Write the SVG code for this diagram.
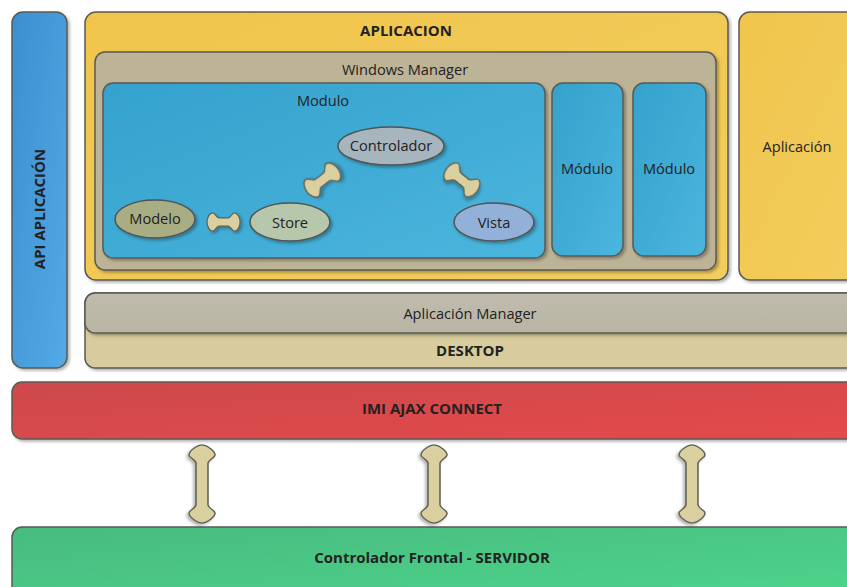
<svg xmlns="http://www.w3.org/2000/svg" xmlns:xlink="http://www.w3.org/1999/xlink" width="847" height="587" viewBox="0 0 847 587">
<style>
text{font-family:"Open Sans","Noto Sans","DejaVu Sans",sans-serif;fill:#222;text-anchor:middle;dominant-baseline:central;font-size:14.6px}
.b{font-weight:bold;font-size:15px}
.box{stroke:#5a5a55;stroke-width:1.5}
.ell{stroke:#4f5552;stroke-width:1.5}
.bone{fill:#d9cf9f;stroke:#5f5f52;stroke-width:1.3}
</style>
<defs>
<filter id="sh" x="-10%" y="-10%" width="130%" height="130%">
<feDropShadow dx="2" dy="2" stdDeviation="1.5" flood-color="#000" flood-opacity="0.3"/>
</filter>
<linearGradient id="gBlue" x1="0" y1="0" x2="1" y2="1"><stop offset="0" stop-color="#3b8fcf"/><stop offset="1" stop-color="#54a9e6"/></linearGradient>
<linearGradient id="gYel" x1="0" y1="0" x2="1" y2="1"><stop offset="0" stop-color="#f1c54c"/><stop offset="1" stop-color="#f2cd5e"/></linearGradient>
<linearGradient id="gMod" x1="0" y1="0" x2="1" y2="1"><stop offset="0" stop-color="#34a2cd"/><stop offset="1" stop-color="#4bb5dd"/></linearGradient>
<linearGradient id="gRed" x1="0" y1="0" x2="1" y2="1"><stop offset="0" stop-color="#cc4a4b"/><stop offset="1" stop-color="#e64a4c"/></linearGradient>
<linearGradient id="gGreen" x1="0" y1="0" x2="1" y2="1"><stop offset="0" stop-color="#49bb7f"/><stop offset="1" stop-color="#4ed68c"/></linearGradient>
<linearGradient id="gGray" x1="0" y1="0" x2="0" y2="1"><stop offset="0" stop-color="#c0bcad"/><stop offset="1" stop-color="#b9b5a5"/></linearGradient>
<path id="boneL" d="M0,0 C0,-5 6,-13 10,-13 C13,-13 14,-7 18,-6 L60,-6 C64,-7 65,-13 68,-13 C72,-13 78,-5 78,0 C78,5 72,13 68,13 C65,13 64,7 60,6 L18,6 C14,7 13,13 10,13 C6,13 0,5 0,0 Z"/>
<path id="boneS" d="M0,0 C0,-5 3,-10 6,-10 C9,-10 10,-5 13,-4.5 L23,-4.5 C26,-5 27,-10 30,-10 C33,-10 36,-5 36,0 C36,5 33,10 30,10 C27,10 26,5 23,4.5 L13,4.5 C10,5 9,10 6,10 C3,10 0,5 0,0 Z"/>
</defs>

<g id="api-aplicacion">
<rect class="box" x="12" y="12" width="55" height="356" rx="11" fill="url(#gBlue)" filter="url(#sh)"/>
<text class="b" transform="translate(39,209) rotate(-90)">API APLICACIÓN</text>
</g>

<g id="aplicacion">
<rect class="box" x="85" y="12" width="643" height="268" rx="11" fill="url(#gYel)" filter="url(#sh)"/>
<text class="b" x="406" y="30">APLICACION</text>
</g>

<g id="windows-manager">
<rect class="box" x="95" y="52" width="621" height="218" rx="10" fill="#bdb396" filter="url(#sh)"/>
<text x="405" y="69">Windows Manager</text>
</g>

<g id="modulo-main">
<rect class="box" x="103" y="83" width="442" height="175" rx="10" fill="url(#gMod)" filter="url(#sh)"/>
<text x="323" y="100">Modulo</text>
</g>

<g id="modulo-2">
<rect class="box" x="552" y="83" width="71" height="173" rx="11" fill="url(#gMod)" filter="url(#sh)"/>
<text x="587" y="168">Módulo</text>
</g>

<g id="modulo-3">
<rect class="box" x="633" y="83" width="73" height="173" rx="11" fill="url(#gMod)" filter="url(#sh)"/>
<text x="669" y="168">Módulo</text>
</g>

<g id="aplicacion-2">
<rect class="box" x="739" y="12" width="140" height="268" rx="11" fill="url(#gYel)" filter="url(#sh)"/>
<text x="797" y="146">Aplicación</text>
</g>

<g id="desktop">
<rect class="box" x="85" y="293" width="800" height="75" rx="10" fill="#d8cc9e" filter="url(#sh)"/>
<text class="b" x="470" y="350">DESKTOP</text>
</g>

<g id="aplicacion-manager">
<rect class="box" x="85" y="293" width="800" height="40" rx="10" fill="url(#gGray)" filter="url(#sh)"/>
<text x="470" y="313">Aplicación Manager</text>
</g>

<g id="imi-ajax-connect">
<rect class="box" x="12" y="382" width="870" height="57" rx="10" fill="url(#gRed)" filter="url(#sh)"/>
<text class="b" x="432" y="408">IMI AJAX CONNECT</text>
</g>

<g id="controlador-frontal">
<rect class="box" x="12" y="527" width="870" height="80" rx="10" fill="url(#gGreen)" filter="url(#sh)"/>
<text class="b" x="432" y="557">Controlador Frontal - SERVIDOR</text>
</g>

<g id="modelo">
<ellipse class="ell" cx="155" cy="219" rx="40" ry="19" fill="#a9ad83" filter="url(#sh)"/>
<text x="155" y="218">Modelo</text>
</g>

<g id="store">
<ellipse class="ell" cx="290" cy="222" rx="40" ry="19" fill="#b7c7ab" filter="url(#sh)"/>
<text x="290" y="222">Store</text>
</g>

<g id="controlador">
<ellipse class="ell" cx="391" cy="146" rx="53" ry="19" fill="#a7b5bf" filter="url(#sh)"/>
<text x="391" y="145">Controlador</text>
</g>

<g id="vista">
<ellipse class="ell" cx="494" cy="222" rx="40" ry="19" fill="#93b1d8" filter="url(#sh)"/>
<text x="494" y="222">Vista</text>
</g>

<g id="connectors">
<use xlink:href="#boneS" class="bone" transform="translate(207,222) scale(0.92)" filter="url(#sh)"/>
<use xlink:href="#boneS" class="bone" transform="translate(307,192) rotate(-37.7) scale(1.08)" filter="url(#sh)"/>
<use xlink:href="#boneS" class="bone" transform="translate(447,168) rotate(38.7) scale(1.06)" filter="url(#sh)"/>
<use xlink:href="#boneL" class="bone" transform="translate(202,445) rotate(90)" filter="url(#sh)"/>
<use xlink:href="#boneL" class="bone" transform="translate(434,445) rotate(90)" filter="url(#sh)"/>
<use xlink:href="#boneL" class="bone" transform="translate(692,445) rotate(90)" filter="url(#sh)"/>
</g>
</svg>
